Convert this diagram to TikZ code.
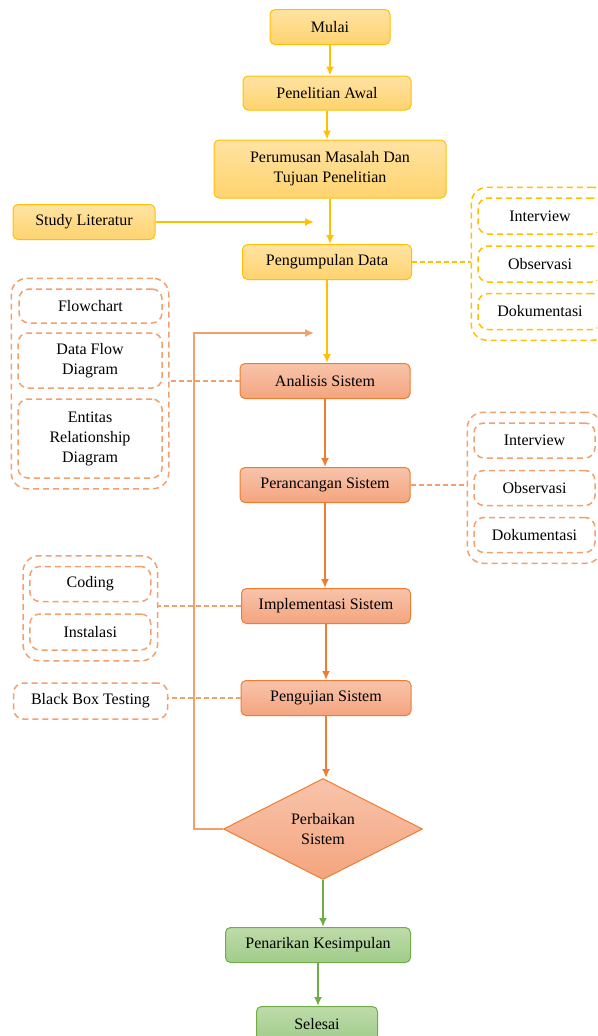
\documentclass[tikz,border=0pt]{standalone}
\usepackage{fontspec}
\setmainfont{Liberation Serif}
\usepackage{tikz}
\usetikzlibrary{arrows.meta, calc, fit, shapes.geometric}
\definecolor{YellowLine}{HTML}{FFC000}
\definecolor{YellowTop}{HTML}{FFE3A3}
\definecolor{YellowBot}{HTML}{FFD36E}
\definecolor{OrangeLine}{HTML}{ED7D31}
\definecolor{OrangeTop}{HTML}{F8C4AB}
\definecolor{OrangeBot}{HTML}{F4A47E}
\definecolor{OrangeDash}{HTML}{F2A06E}
\definecolor{GreenLine}{HTML}{70AD47}
\definecolor{GreenTop}{HTML}{BEDBAA}
\definecolor{GreenBot}{HTML}{A0CC8A}
\tikzset{
	box/.style={rounded corners=5pt, line width=1pt, inner sep=2pt, align=center, minimum height=35pt, font=\fontsize{16}{20}\selectfont},
	yellowbox/.style={box, draw=YellowLine, top color=YellowTop, bottom color=YellowBot},
	orangebox/.style={box, draw=OrangeLine, top color=OrangeTop, bottom color=OrangeBot},
	greenbox/.style={box, draw=GreenLine, top color=GreenTop, bottom color=GreenBot},
	dashbox/.style={rounded corners=10pt, line width=1.5pt, dash pattern=on 6pt off 4pt, align=center, inner sep=2pt, font=\fontsize{16}{20}\selectfont},
	groupbox/.style={rounded corners=16pt, line width=1.5pt, dash pattern=on 6pt off 4pt, inner xsep=6pt, inner ysep=10pt},
	flow/.style={line width=2pt, -{Latex[length=9pt,width=8pt]}},
	link/.style={line width=1.6pt, dash pattern=on 5pt off 3pt},
}

\begin{document}
\begin{tikzpicture}[x=1pt, y=-1pt]

	\useasboundingbox (0,0) rectangle (597,1036);
	\clip (0,0) rectangle (597,1036);

	% main column
	\node[yellowbox, minimum width=120pt] (mulai) at (330,27) {Mulai};
	\node[yellowbox, minimum width=168pt, minimum height=34pt] (awal) at (327,93) {Penelitian Awal};
	\node[yellowbox, minimum width=232pt, minimum height=58pt] (rumus) at (330,169) {Perumusan Masalah Dan\\Tujuan Penelitian};
	\node[yellowbox, minimum width=142pt] (studi) at (84,222) {Study Literatur};
	\node[yellowbox, minimum width=169pt] (kumpul) at (327,262) {Pengumpulan Data};
	\node[orangebox, minimum width=170pt] (analisis) at (325,381) {Analisis Sistem};
	\node[orangebox, minimum width=170pt] (rancang) at (325,485) {Perancangan Sistem};
	\node[orangebox, minimum width=169pt] (implementasi) at (326,606) {Implementasi Sistem};
	\node[orangebox, minimum width=170pt] (uji) at (326,698) {Pengujian Sistem};
	\node[orangebox, diamond, sharp corners, aspect=2, minimum width=199pt, minimum height=101pt, inner sep=0pt] (perbaikan) at (323,829) {Perbaikan\\Sistem};
	\node[greenbox, minimum width=185pt] (simpulan) at (318,945) {Penarikan Kesimpulan};
	\node[greenbox, minimum width=121pt] (selesai) at (317,1024) {Selesai};

	\coordinate (litin) at (314,222);
	\coordinate (loopin) at (314,333);
	\coordinate (loopc) at (194,333);

	% dashed side groups
	\begin{scope}[every node/.append style={draw=YellowLine}]
		\node[dashbox, minimum width=124pt, minimum height=36pt] (intA) at (540,216) {Interview};
		\node[dashbox, minimum width=124pt, minimum height=36pt] (obsA) at (540,264) {Observasi};
		\node[dashbox, minimum width=124pt, minimum height=36pt] (dokA) at (540,311.5) {Dokumentasi};
		\node[groupbox, fit=(intA)(dokA)] (grpA) {};
	\end{scope}
	\begin{scope}[every node/.append style={draw=OrangeDash}]
		\node[dashbox, minimum width=143pt, minimum height=34pt] (flow) at (90.5,306) {Flowchart};
		\node[dashbox, minimum width=144pt, minimum height=55pt] (dfd) at (90,360.5) {Data Flow\\Diagram};
		\node[dashbox, minimum width=144pt, minimum height=79pt] (erd) at (90,438.5) {Entitas\\Relationship\\Diagram};
		\node[groupbox, fit=(flow)(erd)] (grpB) {};
		\node[dashbox, minimum width=121pt, minimum height=35pt] (intB) at (534.5,440.5) {Interview};
		\node[dashbox, minimum width=121pt, minimum height=35pt] (obsB) at (534.5,488) {Observasi};
		\node[dashbox, minimum width=121pt, minimum height=35pt] (dokB) at (534.5,535) {Dokumentasi};
		\node[groupbox, fit=(intB)(dokB)] (grpC) {};
		\node[dashbox, minimum width=121pt, minimum height=35pt] (coding) at (90.3,584) {Coding};
		\node[dashbox, minimum width=121pt, minimum height=36pt] (instal) at (90.3,632) {Instalasi};
		\node[groupbox, fit=(coding)(instal)] (grpD) {};
		\node[dashbox, minimum width=154pt, minimum height=36pt] (blackbox) at (90.5,701) {Black Box Testing};
	\end{scope}

	% arrows
	\draw[flow, YellowLine] (mulai.south) -- (mulai.south |- awal.north);
	\draw[flow, YellowLine] (awal.south) -- (awal.south |- rumus.north);
	\draw[flow, YellowLine] (rumus.south) -- (rumus.south |- kumpul.north);
	\draw[flow, YellowLine] (studi.east) -- (litin);
	\draw[flow, YellowLine] (kumpul.south) -- (kumpul.south |- analisis.north);
	\draw[flow, OrangeLine] (analisis.south) -- (analisis.south |- rancang.north);
	\draw[flow, OrangeLine] (rancang.south) -- (rancang.south |- implementasi.north);
	\draw[flow, OrangeLine] (implementasi.south) -- (implementasi.south |- uji.north);
	\draw[flow, OrangeLine] (uji.south) -- (uji.south |- perbaikan.north);
	\draw[flow, GreenLine] (perbaikan.south) -- (perbaikan.south |- simpulan.north);
	\draw[flow, GreenLine] (simpulan.south) -- (simpulan.south |- selesai.north);
	\draw[flow, OrangeDash, line width=1.5pt] (perbaikan.west) -| (loopc) -- (loopin);

	% dashed links
	\draw[link, YellowLine] (kumpul.east) -- (kumpul.east -| grpA.west);
	\draw[link, OrangeDash] (analisis.west) -- (analisis.west -| grpB.east);
	\draw[link, OrangeDash] (rancang.east) -- (rancang.east -| grpC.west);
	\draw[link, OrangeDash] (implementasi.west) -- (implementasi.west -| grpD.east);
	\draw[link, OrangeDash] (uji.west) -- (uji.west -| blackbox.east);

\end{tikzpicture}
\end{document}
